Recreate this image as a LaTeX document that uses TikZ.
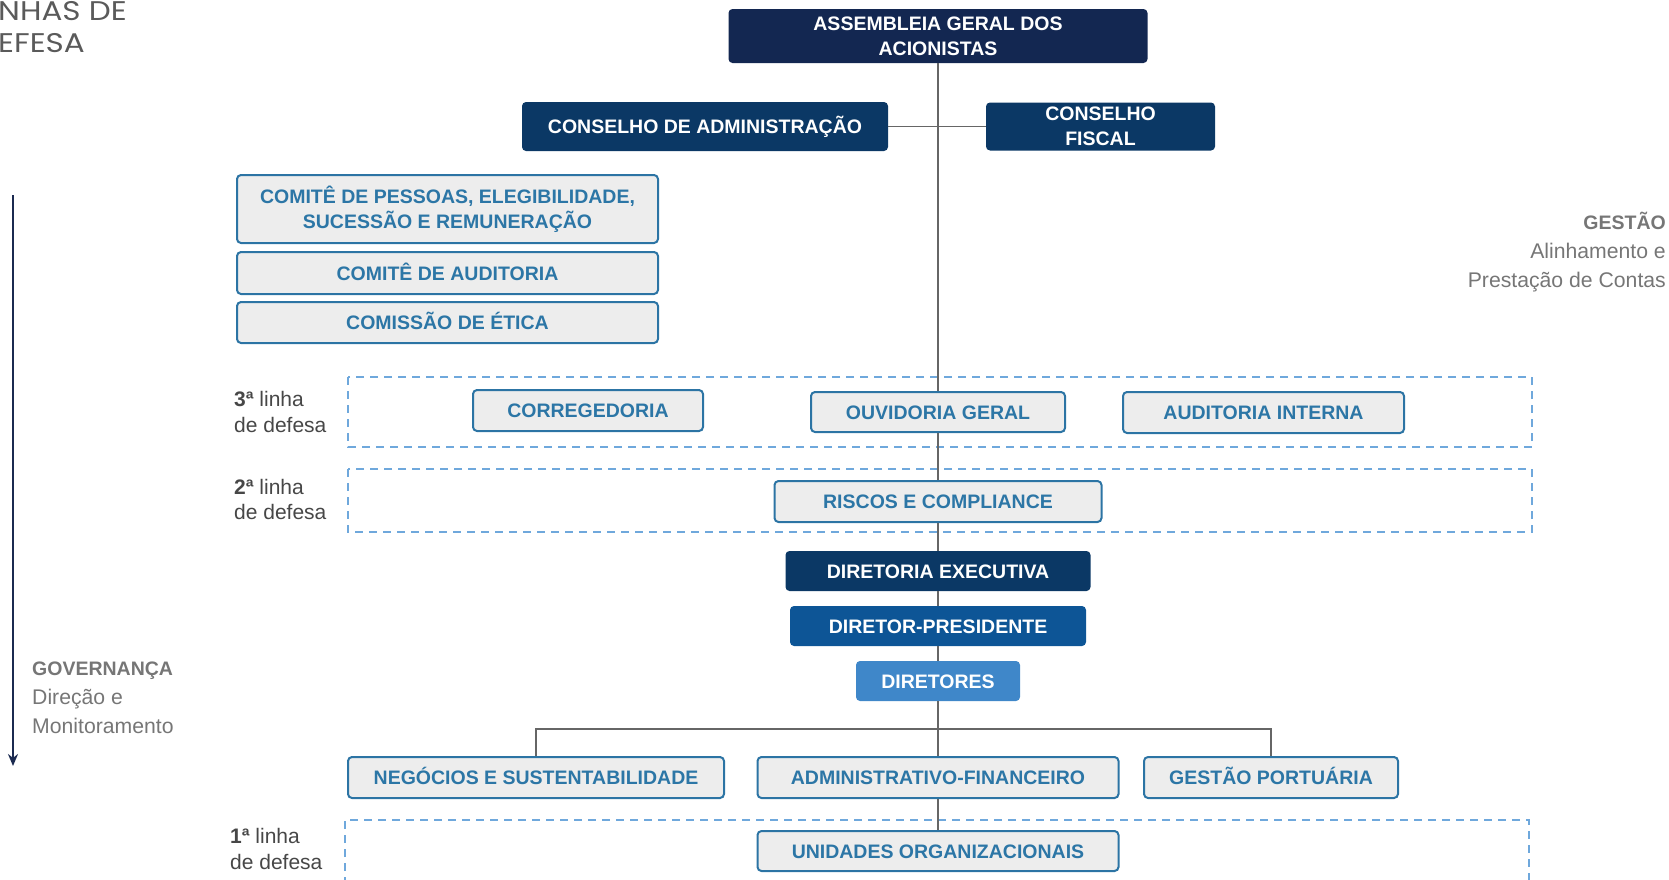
\documentclass[tikz,border=0pt]{standalone}
\usepackage{fontspec}
\setmainfont{Liberation Sans}
\newfontfamily\headfont{Poppins}
\usetikzlibrary{arrows.meta}
\definecolor{navyA}{HTML}{132751}
\definecolor{navyB}{HTML}{0B3865}
\definecolor{blueC}{HTML}{0D5596}
\definecolor{blueD}{HTML}{3F87C9}
\definecolor{boxfill}{HTML}{EDEDED}
\definecolor{boxline}{HTML}{2C74A4}
\definecolor{boxtext}{HTML}{2C76A6}
\definecolor{zonec}{HTML}{6FA8DC}
\definecolor{connc}{HTML}{666666}
\definecolor{lblc}{HTML}{474747}
\definecolor{sidec}{HTML}{767676}
\definecolor{headc}{HTML}{5A5A5A}
\definecolor{arrowc}{HTML}{1B2A50}
\tikzset{
  orgbase/.style={rounded corners=4pt, inner sep=0pt, align=center,
    font=\bfseries\fontsize{19.5}{25}\selectfont},
  oneline/.style={text height=14pt, text depth=0pt},
  darkbox/.style={orgbase, fill=#1, text=white},
  lightbox/.style={orgbase, fill=boxfill, draw=boxline, line width=2pt, text=boxtext},
  conn/.style={draw=connc, line width=1.8pt},
  zone/.style={draw=zonec, dash pattern=on 8pt off 6pt, line width=2pt},
  lbl/.style={inner sep=0pt, text=lblc, font=\fontsize{21}{24}\selectfont},
  side/.style={inner sep=0pt, text=sidec, font=\fontsize{21.2}{24}\selectfont},
  head/.style={inner sep=0pt, text=headc, anchor=base west, font=\headfont\fontsize{27}{30}\selectfont},
}
\begin{document}
\begin{tikzpicture}[x=1pt,y=-1pt]
\useasboundingbox (0,0) rectangle (1669,879);

% dashed zones (lines of defence)
\draw[zone] (348,377) rectangle (1532,447);
\draw[zone] (348,469) rectangle (1532,532);
\draw[zone] (345,885) -- (345,820) -- (1529,820) -- (1529,885);

% nodes
\node[darkbox=navyA, minimum width=419pt, minimum height=54pt] (asm) at (938,36)
  {ASSEMBLEIA GERAL DOS\\ACIONISTAS};
\node[darkbox=navyB, oneline, minimum width=366pt, minimum height=49pt] (cadm) at (705,126.5)
  {CONSELHO DE ADMINISTRAÇÃO};
\node[darkbox=navyB, minimum width=229pt, minimum height=48pt] (cfis) at (1100.5,126.5)
  {CONSELHO\\FISCAL};

\node[lightbox, minimum width=421pt, minimum height=68pt] (cpes) at (447.5,209)
  {COMITÊ DE PESSOAS, ELEGIBILIDADE,\\SUCESSÃO E REMUNERAÇÃO};
\node[lightbox, oneline, minimum width=421pt, minimum height=42pt] (caud) at (447.5,273)
  {COMITÊ DE AUDITORIA};
\node[lightbox, oneline, minimum width=421pt, minimum height=41pt] (ceti) at (447.5,322.5)
  {COMISSÃO DE ÉTICA};

\node[lightbox, oneline, minimum width=230pt, minimum height=41pt] (corr) at (588,410.5)
  {CORREGEDORIA};
\node[lightbox, oneline, minimum width=254pt, minimum height=40pt] (ouv) at (938,412)
  {OUVIDORIA GERAL};
\node[lightbox, oneline, minimum width=281pt, minimum height=41pt] (aud) at (1263.5,412.5)
  {AUDITORIA INTERNA};
\node[lightbox, oneline, minimum width=327pt, minimum height=41pt] (risc) at (938,501.5)
  {RISCOS E COMPLIANCE};

\node[darkbox=navyB, oneline, minimum width=305pt, minimum height=40pt] (dex) at (938,571)
  {DIRETORIA EXECUTIVA};
\node[darkbox=blueC, oneline, minimum width=296pt, minimum height=40pt] (dpr) at (938,626)
  {DIRETOR-PRESIDENTE};
\node[darkbox=blueD, oneline, minimum width=164pt, minimum height=40pt] (dir) at (938,681)
  {DIRETORES};

\node[lightbox, oneline, minimum width=376pt, minimum height=41pt] (neg) at (536,777.5)
  {NEGÓCIOS E SUSTENTABILIDADE};
\node[lightbox, oneline, minimum width=361pt, minimum height=41pt] (adm) at (938,777.5)
  {ADMINISTRATIVO-FINANCEIRO};
\node[lightbox, oneline, minimum width=254pt, minimum height=41pt] (gp) at (1271,777.5)
  {GESTÃO PORTUÁRIA};
\node[lightbox, oneline, minimum width=361pt, minimum height=40pt] (uni) at (938,851)
  {UNIDADES ORGANIZACIONAIS};

% connectors
\draw[conn] (asm.south) -- (ouv.north);
\draw[conn] (cadm.east) -- (cfis.west);
\draw[conn] (ouv.south) -- (risc.north);
\draw[conn] (risc.south) -- (dex.north);
\draw[conn] (dex.south) -- (dpr.north);
\draw[conn] (dpr.south) -- (dir.north);
\draw[conn] (dir.south) -- (adm.north);
\draw[conn] (adm.south) -- (uni.north);
\coordinate (br) at (938,729);
\draw[conn] (neg.north) |- (br) -| (gp.north);

% line-of-defence labels
\node[lbl, anchor=base west] (l3a) at (234,406) {\textbf{3ª} linha};
\node[lbl, anchor=base west] (l3b) at (234,432) {de defesa};
\node[lbl, anchor=base west] (l2a) at (234,494) {\textbf{2ª} linha};
\node[lbl, anchor=base west] (l2b) at (234,519) {de defesa};
\node[lbl, anchor=base west] (l1a) at (230,843) {\textbf{1ª} linha};
\node[lbl, anchor=base west] (l1b) at (230,869) {de defesa};

% governance arrow and labels
\coordinate (atop) at (13,195);
\coordinate (abot) at (13,766);
\draw[draw=arrowc, line width=2pt, -{Stealth[length=12pt,width=10pt]}] (atop) -- (abot);
\node[side, anchor=base west] (gov1) at (32,675) {\textbf{\fontsize{19.5}{24}\selectfont GOVERNANÇA}};
\node[side, anchor=base west] (gov2) at (32,704) {Direção e};
\node[side, anchor=base west] (gov3) at (32,733) {Monitoramento};

\node[side, anchor=base east] (ges1) at (1666,229) {\textbf{\fontsize{19.5}{24}\selectfont GESTÃO}};
\node[side, anchor=base east] (ges2) at (1666,258) {Alinhamento e};
\node[side, anchor=base east] (ges3) at (1666,287) {Prestação de Contas};

% cut-off heading
\node[head] (hd1) at (-2,20) {\scalebox{1.15}[1]{NHAS DE}};
\node[head] (hd2) at (-2,52) {\scalebox{1.15}[1]{EFESA}};
\end{tikzpicture}
\end{document}
